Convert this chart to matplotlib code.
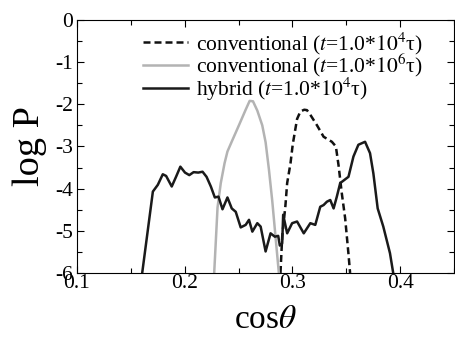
import numpy as np
import matplotlib
matplotlib.use('Agg')
import matplotlib.pyplot as plt

plt.rcParams['font.family'] = ['Liberation Serif', 'DejaVu Serif']
plt.rcParams['mathtext.fontset'] = 'stix'
plt.rcParams['axes.unicode_minus'] = False

# conventional, t = 1.0*10^4 tau (dashed)
conv4_x = [0.2889, 0.2905, 0.2935, 0.2951, 0.2982, 0.3003, 0.3043, 0.3074, 0.3110,
           0.3135, 0.3166, 0.3228, 0.3289, 0.3366, 0.3403, 0.3428, 0.3458, 0.3489,
           0.3520, 0.3535]
conv4_y = [-6.0, -5.14, -4.40, -3.87, -3.40, -2.95, -2.35, -2.17, -2.13,
           -2.14, -2.25, -2.50, -2.77, -2.89, -3.00, -3.45, -4.11, -4.70,
           -5.55, -6.0]

# conventional, t = 1.0*10^6 tau (grey)
conv6_x = [0.2274, 0.2305, 0.2335, 0.2370, 0.2397, 0.2443, 0.2505, 0.2566, 0.2603,
           0.2634, 0.2674, 0.2720, 0.2751, 0.2782, 0.2813, 0.2843, 0.2874]
conv6_y = [-6.0, -4.45, -3.87, -3.40, -3.12, -2.85, -2.49, -2.13, -1.92,
           -1.93, -2.15, -2.50, -2.90, -3.55, -4.30, -5.14, -6.0]

# hybrid, t = 1.0*10^4 tau (black)
hyb_x = [0.1606, 0.1705, 0.1751, 0.1797, 0.1828, 0.1880, 0.1920, 0.1960, 0.2003,
         0.2043, 0.2083, 0.2126, 0.2166, 0.2203, 0.2243, 0.2280, 0.2314, 0.2351,
         0.2397, 0.2437, 0.2474, 0.2520, 0.2566, 0.2597, 0.2628, 0.2674, 0.2705,
         0.2751, 0.2797, 0.2837, 0.2868, 0.2883, 0.2905, 0.2914, 0.2951, 0.2997,
         0.3043, 0.3105, 0.3166, 0.3212, 0.3258, 0.3289, 0.3320, 0.3351, 0.3382,
         0.3412, 0.3443, 0.3520, 0.3566, 0.3612, 0.3674, 0.3720, 0.3751, 0.3791,
         0.3843, 0.3905, 0.3935]
hyb_y = [-6.0, -4.07, -3.91, -3.66, -3.70, -3.95, -3.72, -3.48, -3.62,
         -3.68, -3.61, -3.62, -3.60, -3.72, -3.95, -4.21, -4.19, -4.49,
         -4.21, -4.47, -4.55, -4.92, -4.86, -4.74, -5.02, -4.82, -4.90,
         -5.49, -5.06, -5.14, -5.12, -5.35, -5.30, -4.62, -5.06, -4.82,
         -4.78, -5.06, -4.82, -4.86, -4.43, -4.39, -4.31, -4.27, -4.47,
         -4.19, -3.87, -3.72, -3.24, -2.96, -2.89, -3.16, -3.64, -4.47,
         -4.90, -5.53, -6.0]

labels = ['conventional ($t$=1.0*$10^4$τ)',
          'conventional ($t$=1.0*$10^6$τ)',
          'hybrid ($t$=1.0*$10^4$τ)']

fig = plt.figure(figsize=(4.55, 3.37), dpi=100)
ax = fig.add_axes([0.169, 0.19, 0.829, 0.751])

ax.plot(conv4_x, conv4_y, color='#111111', lw=1.8, dashes=(2.8, 1.6), label=labels[0])
ax.plot(conv6_x, conv6_y, color='#b3b3b3', lw=1.8, label=labels[1])
ax.plot(hyb_x, hyb_y, color='#1a1a1a', lw=1.8, label=labels[2])

ax.set_xlim(0.1, 0.45)
ax.set_ylim(-6, 0)
ax.set_xticks([0.1, 0.2, 0.3, 0.4])
ax.set_xticklabels(['0.1', '0.2', '0.3', '0.4'])
ax.set_xticks(np.arange(0.15, 0.45, 0.1), minor=True)
ax.set_yticks(range(-6, 1))
ax.set_yticks(np.arange(-5.5, 0, 1.0), minor=True)
ax.tick_params(which='both', direction='in', top=True, right=True, width=0.8, labelsize=15.5)
ax.tick_params(which='major', length=5)
ax.tick_params(which='minor', length=3.5)
ax.tick_params(axis='x', pad=1)
ax.tick_params(axis='y', pad=3)
for s in ax.spines.values():
    s.set_linewidth(0.8)

ax.set_xlabel(r'cos$\theta$', fontsize=24, labelpad=8)
ax.set_ylabel('log P', fontsize=27.5, labelpad=6)

ax.legend(loc='upper left', bbox_to_anchor=(0.175, 0.96), frameon=False, fontsize=15.5,
          borderpad=0, borderaxespad=0, handlelength=2.1, handletextpad=0.35,
          labelspacing=-0.2)

fig.savefig('out.png', dpi=100)
